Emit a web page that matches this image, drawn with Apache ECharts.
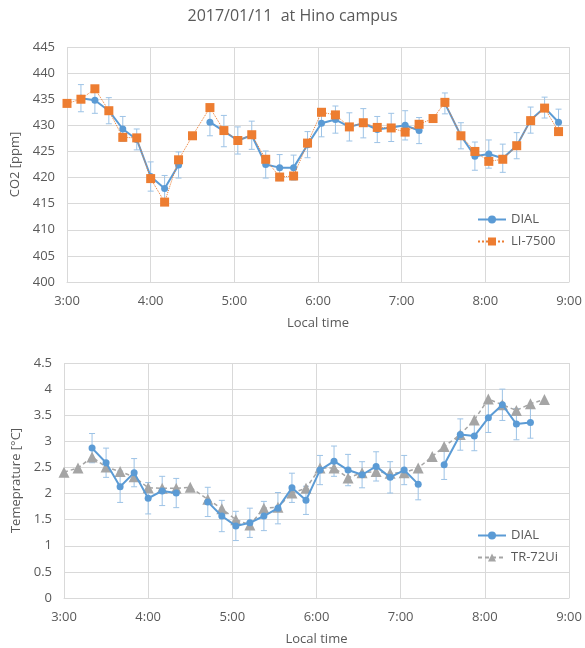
<!DOCTYPE html>
<html>
<head>
<meta charset="utf-8">
<script src="https://cdn.jsdelivr.net/npm/echarts@6/dist/echarts.min.js"></script>
<style>
html,body{margin:0;padding:0;background:#fff;}
#chart{width:585px;height:648px;}
</style>
</head>
<body>
<div id="chart"></div>
<script>
// minutes after 3:00
const times = [0,10,20,30,40,50,60,70,80,90,102.5,112.5,122.5,132.5,142.5,152.5,162.5,172.5,182.5,192.5,202.5,212.5,222.5,232.5,242.5,252.5,262.5,271,282.5,292.5,302.5,312.5,322.5,332.5,342.5,352.5];
const tickLabels = ['3:00','4:00','5:00','6:00','7:00','8:00','9:00'];

// CO2 [ppm]
const co2Li7500 = [434.2,435.0,437.0,432.8,427.7,427.6,419.8,415.3,423.4,428.0,433.4,429.0,427.1,428.2,423.5,420.1,420.3,426.6,432.5,432.0,429.7,430.5,429.6,429.5,428.7,430.2,431.3,434.4,428.0,425.0,423.1,423.5,426.1,430.9,433.3,428.8];
const co2Dial = [null,435.2,434.8,432.8,429.3,427.3,420.2,417.9,422.4,null,430.6,428.9,427.1,428.1,422.5,421.9,421.9,426.3,430.4,431.1,429.7,430.4,429.2,429.6,430.0,429.0,null,434.2,428.0,424.1,424.5,423.7,426.1,431.0,433.4,430.6];
const co2DialErr = [null,2.6,2.5,2.5,2.4,2.0,2.8,2.5,2.5,null,2.6,3.0,2.6,2.7,2.6,2.5,2.4,2.5,2.6,2.6,2.7,2.8,2.5,2.7,2.8,2.5,null,2.0,2.5,2.7,2.7,2.7,2.5,2.5,2.0,2.5];

// Temperature [°C]
const tempTr72 = [2.41,2.49,2.70,2.51,2.42,2.32,2.11,2.10,2.10,2.12,1.89,1.71,1.50,1.40,1.72,1.74,2.01,2.10,2.49,2.49,2.30,2.40,2.42,2.39,2.40,2.49,2.71,2.90,3.13,3.41,3.81,3.70,3.59,3.72,3.80];
const tempDial = [null,null,2.87,2.59,2.13,2.40,1.91,2.05,2.01,null,1.84,1.57,1.38,1.44,1.57,1.72,2.11,1.87,2.45,2.62,2.45,2.36,2.52,2.31,2.45,2.18,null,2.55,3.13,3.10,3.45,3.70,3.33,3.36,null,null];
const tempDialErr = [null,null,0.28,0.28,0.30,0.27,0.30,0.28,0.28,null,0.28,0.30,0.28,0.28,0.28,0.30,0.28,0.27,0.28,0.29,0.30,0.25,0.28,0.30,0.28,0.30,null,0.28,0.30,0.28,0.28,0.30,0.30,0.30,null,null];

const BLUE = '#5B9BD5', ORANGE = '#ED7D31', GRAY = '#A5A5A5', ERR = '#9DC3E6';
const TXT = '#595959', GRID = '#D9D9D9';
const FONT = 'Open Sans';
const FS = 13;

function pairs(vals){ return vals.map((v,i)=>[times[i], v===null ? '-' : v]); }
function errData(vals, errs){
  const out=[];
  vals.forEach((v,i)=>{ if(v!==null && errs[i]!==null) out.push([times[i], v, errs[i]]); });
  return out;
}
function errRender(params, api){
  const x = api.value(0), v = api.value(1), e = api.value(2);
  const lo = api.coord([x, v-e]), hi = api.coord([x, v+e]);
  const cw = 3;
  return {
    type:'group',
    children:[
      {type:'line', shape:{x1:lo[0],y1:lo[1],x2:hi[0],y2:hi[1]}, style:{stroke:ERR,lineWidth:1}},
      {type:'line', shape:{x1:lo[0]-cw,y1:lo[1],x2:lo[0]+cw,y2:lo[1]}, style:{stroke:ERR,lineWidth:1}},
      {type:'line', shape:{x1:hi[0]-cw,y1:hi[1],x2:hi[0]+cw,y2:hi[1]}, style:{stroke:ERR,lineWidth:1}}
    ]
  };
}
function xAxisDef(gridIndex){
  return {
    type:'value', gridIndex, min:0, max:360, interval:60,
    name:'Local time', nameLocation:'middle', nameGap:35,
    nameTextStyle:{color:TXT, fontSize:FS, fontFamily:FONT},
    axisLine:{show:true, lineStyle:{color:GRID}},
    axisTick:{show:false},
    axisLabel:{color:TXT, fontSize:FS, fontFamily:FONT, margin:13,
      formatter:(v)=>tickLabels[Math.round(v/60)]},
    splitLine:{show:true, lineStyle:{color:GRID, width:1}}
  };
}

const chart = echarts.init(document.getElementById('chart'), null, {renderer:'canvas'});
chart.setOption({
  backgroundColor:'#fff',
  animation:false,
  title:{text:'2017/01/11  at Hino campus', left:'center', top:3,
    textStyle:{color:TXT, fontSize:16, fontWeight:'normal', fontFamily:FONT}},
  grid:[
    {left:67, right:16, top:47, height:235},
    {left:64, right:16, top:363, height:235}
  ],
  xAxis:[xAxisDef(0), xAxisDef(1)],
  yAxis:[
    {type:'value', gridIndex:0, min:400, max:445, interval:5,
     name:'CO2 [ppm]', nameLocation:'middle', nameGap:42,
     nameTextStyle:{color:TXT, fontSize:FS, fontFamily:FONT},
     axisLine:{show:false}, axisTick:{show:false},
     axisLabel:{color:TXT, fontSize:FS, fontFamily:FONT, margin:12},
     splitLine:{lineStyle:{color:GRID}}},
    {type:'value', gridIndex:1, min:0, max:4.5, interval:0.5,
     name:'Temeprature [\u00B0C]', nameLocation:'middle', nameGap:39,
     nameTextStyle:{color:TXT, fontSize:FS, fontFamily:FONT},
     axisLine:{show:false}, axisTick:{show:false},
     axisLabel:{color:TXT, fontSize:FS, fontFamily:FONT, margin:12},
     splitLine:{lineStyle:{color:GRID}}}
  ],
  legend:[
    {data:['DIAL','LI-7500'], orient:'vertical', left:472, top:208, itemGap:9,
     itemWidth:28, itemHeight:10, textStyle:{color:TXT, fontSize:FS, fontFamily:FONT}},
    {data:['DIAL ','TR-72Ui'], orient:'vertical', left:472, top:524, itemGap:9,
     itemWidth:28, itemHeight:10, textStyle:{color:TXT, fontSize:FS, fontFamily:FONT}}
  ],
  series:[
    {type:'custom', xAxisIndex:0, yAxisIndex:0, renderItem:errRender,
     data:errData(co2Dial, co2DialErr), z:1, silent:true},
    {name:'LI-7500', type:'line', xAxisIndex:0, yAxisIndex:0, data:pairs(co2Li7500),
     symbol:'rect', symbolSize:9, itemStyle:{color:ORANGE},
     lineStyle:{color:ORANGE, width:1, type:'dotted'}, z:3},
    {name:'DIAL', type:'line', xAxisIndex:0, yAxisIndex:0, data:pairs(co2Dial),
     symbol:'circle', symbolSize:7, itemStyle:{color:BLUE},
     lineStyle:{color:BLUE, width:2}, connectNulls:false, z:2},

    {type:'custom', xAxisIndex:1, yAxisIndex:1, renderItem:errRender,
     data:errData(tempDial, tempDialErr), z:1, silent:true},
    {name:'TR-72Ui', type:'line', xAxisIndex:1, yAxisIndex:1, data:pairs(tempTr72),
     symbol:'triangle', symbolSize:11, itemStyle:{color:GRAY},
     lineStyle:{color:GRAY, width:1.5, type:[4,3]}, z:2},
    {name:'DIAL ', type:'line', xAxisIndex:1, yAxisIndex:1, data:pairs(tempDial),
     symbol:'circle', symbolSize:7, itemStyle:{color:BLUE},
     lineStyle:{color:BLUE, width:2}, connectNulls:false, z:3}
  ]
});
</script>
</body>
</html>
